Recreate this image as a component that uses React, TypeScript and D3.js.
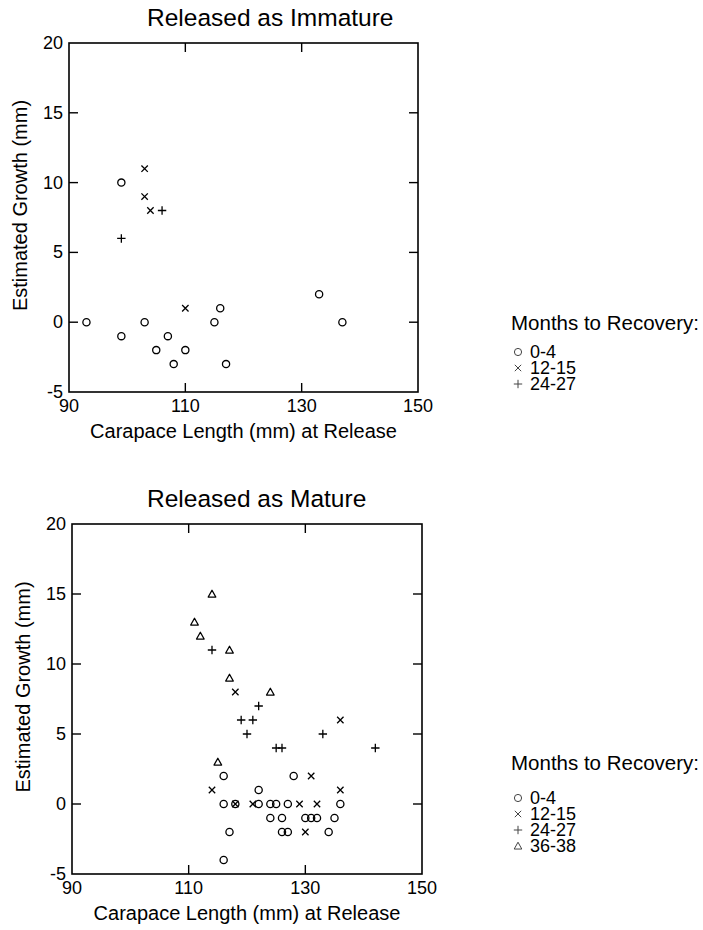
import React from "react";
import * as d3 from "d3";

// Estimated growth (mm) against carapace length at release (mm), by months to recovery
const immature0to4: [number, number][] = [
  [93, 0], [99, 10], [99, -1], [103, 0], [105, -2], [107, -1], [108, -3],
  [110, -2], [115, 0], [116, 1], [117, -3], [133, 2], [137, 0],
];
const immature12to15: [number, number][] = [[103, 11], [103, 9], [104, 8], [110, 1]];
const immature24to27: [number, number][] = [[99, 6], [106, 8]];

const mature0to4: [number, number][] = [
  [116, 2], [116, 0], [116, -4], [117, -2], [118, 0], [122, 1], [122, 0],
  [124, 0], [124, -1], [125, 0], [126, -1], [126, -2], [127, 0], [127, -2],
  [128, 2], [130, -1], [131, -1], [132, -1], [134, -2], [135, -1], [136, 0],
];
const mature12to15: [number, number][] = [
  [114, 1], [118, 8], [118, 0], [121, 0], [129, 0], [130, -2], [131, 2],
  [132, 0], [136, 6], [136, 1],
];
const mature24to27: [number, number][] = [
  [114, 11], [119, 6], [120, 5], [121, 6], [122, 7], [125, 4], [126, 4],
  [133, 5], [142, 4],
];
const mature36to38: [number, number][] = [
  [111, 13], [112, 12], [114, 15], [115, 3], [117, 11], [117, 9], [124, 8],
];

const xTicks = [90, 110, 130, 150];
const yTicks = [-5, 0, 5, 10, 15, 20];
const groupLabels = ["0-4", "12-15", "24-27", "36-38"];
const markerKinds = ["circle", "cross", "plus", "triangle"] as const;

type Kind = (typeof markerKinds)[number];

const FONT = "'Liberation Sans', Arial, Helvetica, sans-serif";

function Marker({ kind, x, y, s = 1, color = "#000", w = 1.3 }: {
  kind: Kind; x: number; y: number; s?: number; color?: string; w?: number;
}) {
  if (kind === "circle") {
    return <circle cx={x} cy={y} r={3.6 * s} fill="none" stroke={color} strokeWidth={w} />;
  }
  if (kind === "cross") {
    const a = 3.2 * s;
    return (
      <path d={`M${x - a},${y - a}L${x + a},${y + a}M${x - a},${y + a}L${x + a},${y - a}`}
        stroke={color} strokeWidth={w} fill="none" />
    );
  }
  if (kind === "plus") {
    const a = 4.2 * s;
    return (
      <path d={`M${x - a},${y}L${x + a},${y}M${x},${y - a}L${x},${y + a}`}
        stroke={color} strokeWidth={w} fill="none" />
    );
  }
  const a = 3.8 * s;
  return (
    <path d={`M${x},${y - a}L${x + a},${y + a * 0.8}L${x - a},${y + a * 0.8}Z`}
      stroke={color} strokeWidth={w} fill="none" strokeLinejoin="round" />
  );
}

function Panel({ title, series, left, right, top, bottom, legendY, legendGap }: {
  title: string; series: [number, number][][]; left: number; right: number;
  top: number; bottom: number; legendY: number; legendGap: number;
}) {
  const x = d3.scaleLinear().domain([90, 150]).range([left, right]);
  const y = d3.scaleLinear().domain([-5, 20]).range([bottom, top]);
  const midX = (left + right) / 2;
  const midY = (top + bottom) / 2;
  const tick = 9;
  return (
    <g fontFamily={FONT} fill="#000">
      <text x={147} y={top - 17} fontSize={24.5}>{title}</text>
      <rect x={left} y={top} width={right - left} height={bottom - top}
        fill="none" stroke="#000" strokeWidth={1.6} />
      {xTicks.slice(1, -1).map((t) => (
        <g key={`xt${t}`}>
          <line x1={x(t)} x2={x(t)} y1={bottom} y2={bottom - tick} stroke="#000" strokeWidth={1.4} />
          <line x1={x(t)} x2={x(t)} y1={top} y2={top + tick} stroke="#000" strokeWidth={1.4} />
        </g>
      ))}
      {yTicks.slice(1, -1).map((t) => (
        <g key={`yt${t}`}>
          <line x1={left} x2={left + tick} y1={y(t)} y2={y(t)} stroke="#000" strokeWidth={1.4} />
          <line x1={right} x2={right - tick} y1={y(t)} y2={y(t)} stroke="#000" strokeWidth={1.4} />
        </g>
      ))}
      {xTicks.map((t) => (
        <text key={`xl${t}`} x={x(t)} y={bottom + 20} fontSize={18} textAnchor="middle">{t}</text>
      ))}
      {yTicks.map((t) => (
        <text key={`yl${t}`} x={left - 6} y={y(t) + 6} fontSize={18} textAnchor="end">{t}</text>
      ))}
      <text x={midX} y={bottom + 46} fontSize={20} textAnchor="middle">
        Carapace Length (mm) at Release
      </text>
      <text transform={`translate(${left - 42},${midY - 12}) rotate(-90)`} fontSize={20}
        textAnchor="middle">Estimated Growth (mm)</text>
      {series.map((pts, i) =>
        pts.map(([a, b], j) => (
          <Marker key={`m${i}-${j}`} kind={markerKinds[i]} x={x(a)} y={y(b)} />
        ))
      )}
      <text x={511} y={legendY} fontSize={20.5}>Months to Recovery:</text>
      {series.map((_, i) => (
        <g key={`lg${i}`}>
          <Marker kind={markerKinds[i]} x={518} y={legendY + legendGap + i * 16 - 6} s={1}
            color="#444" w={1} />
          <text x={530} y={legendY + legendGap + i * 16} fontSize={18}>{groupLabels[i]}</text>
        </g>
      ))}
    </g>
  );
}

export default function App() {
  return (
    <svg width={703} height={930} style={{ position: "absolute", left: 0, top: 0, background: "#fff" }}>
      <rect width={703} height={930} fill="#fff" />
      <Panel title="Released as Immature"
        series={[immature0to4, immature12to15, immature24to27]}
        left={69} right={418} top={43} bottom={392} legendY={330} legendGap={28} />
      <Panel title="Released as Mature"
        series={[mature0to4, mature12to15, mature24to27, mature36to38]}
        left={72} right={422} top={524} bottom={874} legendY={770} legendGap={34} />
    </svg>
  );
}
